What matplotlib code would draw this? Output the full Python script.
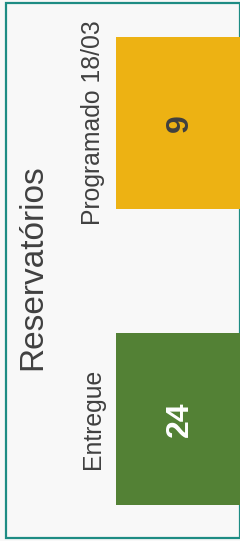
import matplotlib.pyplot as plt
from matplotlib.patches import Rectangle

# data
categories = ["Programado 18/03", "Entregue"]
values = [9, 24]
bar_colors = ["#EDB213", "#538135"]
label_colors = ["#404040", "#FFFFFF"]
title = "Reservatórios"

W, H = 240, 541
plt.rcParams['font.family'] = ['Liberation Sans', 'DejaVu Sans']

fig = plt.figure(figsize=(W / 100, H / 100), dpi=100, facecolor="#F8F8F8")

# frame around the card
fig.patches.append(Rectangle((5.5 / W, 3.0 / H), (W - 5.0) / W, (H - 6.0) / H,
                             transform=fig.transFigure, fill=False,
                             edgecolor="#1E8C84", linewidth=1.6, zorder=-1))

ax = fig.add_axes([116 / W, 0, 124 / W, 1])
ax.set_facecolor("none")

pos = list(range(len(categories)))
ax.barh(pos, values, height=172 / 296, color=bar_colors)
ax.set_xlim(0, 8)
ax.set_ylim(1 + (H - 419) / 296, -123 / 296)

ax.set_yticks(pos)
ax.set_yticklabels(categories, rotation=90, va="center", fontsize=17.8, color="#404040")
ax.tick_params(axis="y", length=0, pad=8)
ax.set_xticks([])
for s in ax.spines.values():
    s.set_visible(False)

for p, v, c in zip(pos, values, label_colors):
    ax.text(0.516, p, str(v), transform=ax.get_yaxis_transform(), rotation=90,
            ha="center", va="center", fontsize=23, fontweight="bold", color=c)

fig.text(33 / W, 1 - 267 / H, title, rotation=90, ha="center", va="center",
         fontsize=24, color="#404040")

fig.savefig("out.png", dpi=100, facecolor=fig.get_facecolor())
